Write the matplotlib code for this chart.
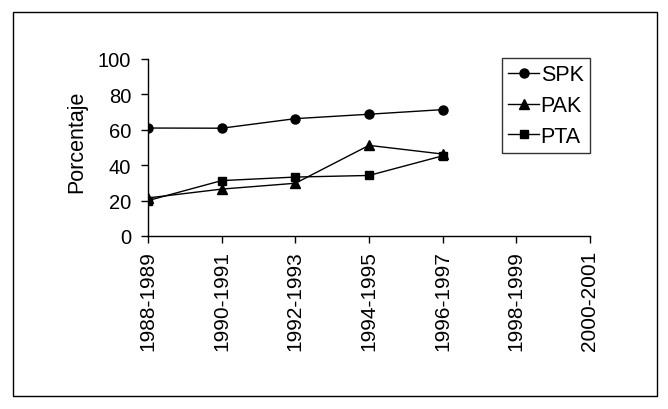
import matplotlib
matplotlib.use("Agg")
import matplotlib.pyplot as plt
from matplotlib.patches import Rectangle

periods = ["1988-1989", "1990-1991", "1992-1993", "1994-1995", "1996-1997", "1998-1999", "2000-2001"]
spk = [61, 60.9, 66.3, 68.8, 71.4]
pak = [21.5, 26.5, 29.8, 51.2, 46.3]
pta = [20.0, 31.3, 33.3, 34.2, 45.3]
yticks = [0, 20, 40, 60, 80, 100]

plt.rcParams['font.family'] = ['Liberation Sans', 'DejaVu Sans']

fig = plt.figure(figsize=(6.68, 4.10), dpi=100)
ax = fig.add_axes([148/668, 1-237/410, (590-148)/668, (237-60)/410])

x = list(range(len(spk)))
ax.plot(x, spk, color='black', lw=1.0, marker='o', ms=6.5, label='SPK')
ax.plot(x, pak, color='black', lw=1.0, marker='^', ms=6.5, label='PAK')
ax.plot(x, pta, color='black', lw=1.0, marker='s', ms=6, label='PTA')

ax.set_xlim(0, len(periods) - 1)
ax.set_ylim(0, 100)
ax.set_xticks(range(len(periods)))
ax.set_xticklabels(periods, rotation=90, fontsize=15)
ax.set_yticks(yticks)
ax.set_yticklabels([str(v) for v in yticks], fontsize=14.5)
ax.set_ylabel("Porcentaje", fontsize=15.5)
ax.yaxis.set_label_coords(-0.137, 0.54)
for s in ['top', 'right']:
    ax.spines[s].set_visible(False)
for s in ['left', 'bottom']:
    ax.spines[s].set_linewidth(1.0)
ax.tick_params(direction='out', length=5, width=1.0)
ax.tick_params(axis='y', pad=7)
ax.tick_params(axis='x', pad=5)
ax.set_facecolor('none')

leg = ax.legend(loc='upper left', bbox_to_anchor=(502/668, 1-59/410), bbox_transform=fig.transFigure,
                fontsize=15.5, frameon=True, fancybox=False, handlelength=1.4, handletextpad=0.1,
                labelspacing=0.45, borderpad=0.3, borderaxespad=0)
leg.get_frame().set_edgecolor('black')
leg.get_frame().set_linewidth(1.0)

fig.patches.append(Rectangle((13/668, 13/410), (657-13)/668, (397-13)/410, transform=fig.transFigure,
                             fill=False, edgecolor='black', lw=1.0))

fig.savefig("out.png", dpi=100)
